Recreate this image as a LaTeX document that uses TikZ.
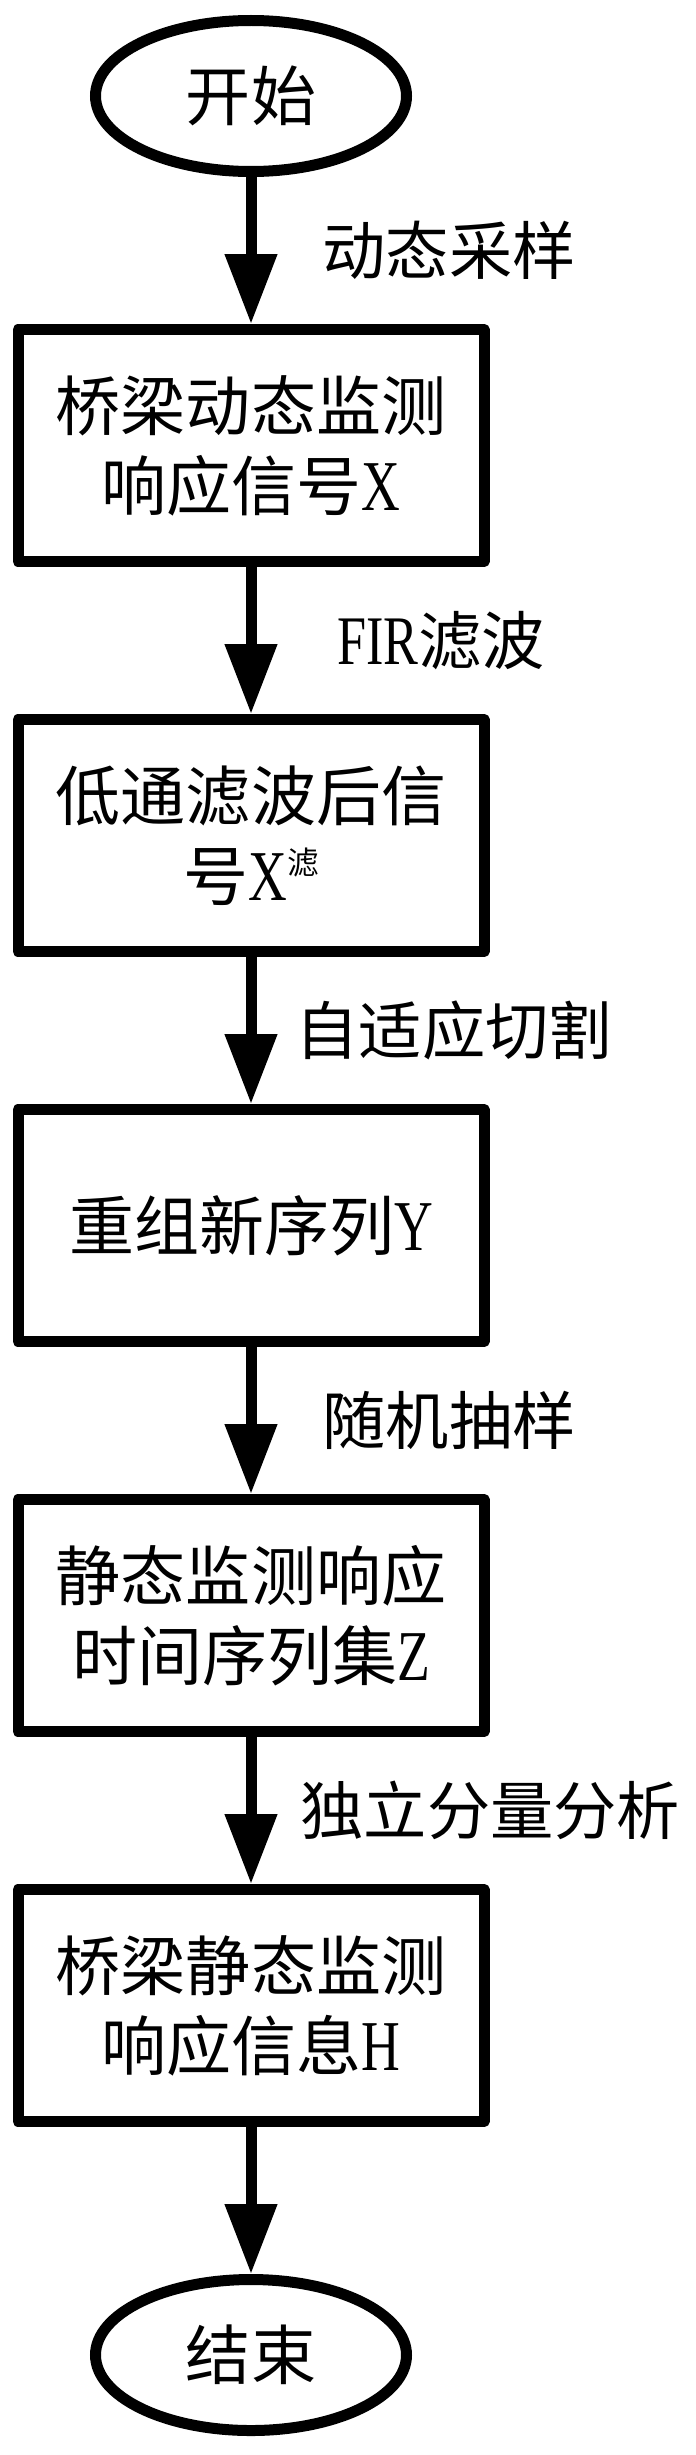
\documentclass[tikz,border=0pt]{standalone}
\usepackage{fontspec}
\setmainfont{Noto Sans CJK SC}
\newfontfamily\latn{Liberation Serif}[Scale=1.1,FakeStretch=0.75]
\usetikzlibrary{arrows.meta, positioning, shapes.geometric}

\newcommand{\ltr}[1]{{\latn #1}}

\begin{document}
\begin{tikzpicture}[
    node distance=2.94cm,
    term/.style={
        ellipse, draw, line width=0.22cm,
        minimum width=6.22cm, minimum height=3.02cm,
        inner sep=0pt, font=\fontsize{37}{46}\selectfont
    },
    proc/.style={
        rectangle, draw, line width=0.22cm, line join=round,
        minimum width=9.32cm, minimum height=4.64cm,
        align=center, inner sep=0pt, font=\fontsize{37}{45.5}\selectfont
    },
    arr/.style={-{Triangle[width=1cm, length=1.4cm]}, line width=0.22cm},
    lbl/.style={
        midway, anchor=west, inner sep=0pt,
        font=\fontsize{36}{36}\selectfont
    }
]
\useasboundingbox (0,0) rectangle (13.92,-49.1);

% Start
\node[term] (start) at (5.02,-1.92) {开始};

% Processing steps
\node[proc, below=of start] (sig) {桥梁动态监测\\响应信号\ltr{X}};
\node[proc, below=of sig] (filt) {低通滤波后信\\号\ltr{X}\raisebox{0.4em}{\fontsize{18}{18}\selectfont 滤}};
\node[proc, below=of filt] (seq) {重组新序列\ltr{Y}};
\node[proc, below=of seq] (zset) {静态监测响应\\时间序列集\ltr{Z}};
\node[proc, below=of zset] (info) {桥梁静态监测\\响应信息\ltr{H}};

% End
\node[term, below=of info] (stop) {结束};

% Arrows with step labels
\draw[arr] (start) -- (sig) node[lbl, xshift=1.32cm] {动态采样};
\draw[arr] (sig) -- (filt) node[lbl, xshift=1.62cm] {\ltr{FIR}滤波};
\draw[arr] (filt) -- (seq) node[lbl, xshift=0.78cm] {自适应切割};
\draw[arr] (seq) -- (zset) node[lbl, xshift=1.32cm] {随机抽样};
\draw[arr] (zset) -- (info) node[lbl, xshift=0.88cm] {独立分量分析};
\draw[arr] (info) -- (stop);

\end{tikzpicture}
\end{document}
